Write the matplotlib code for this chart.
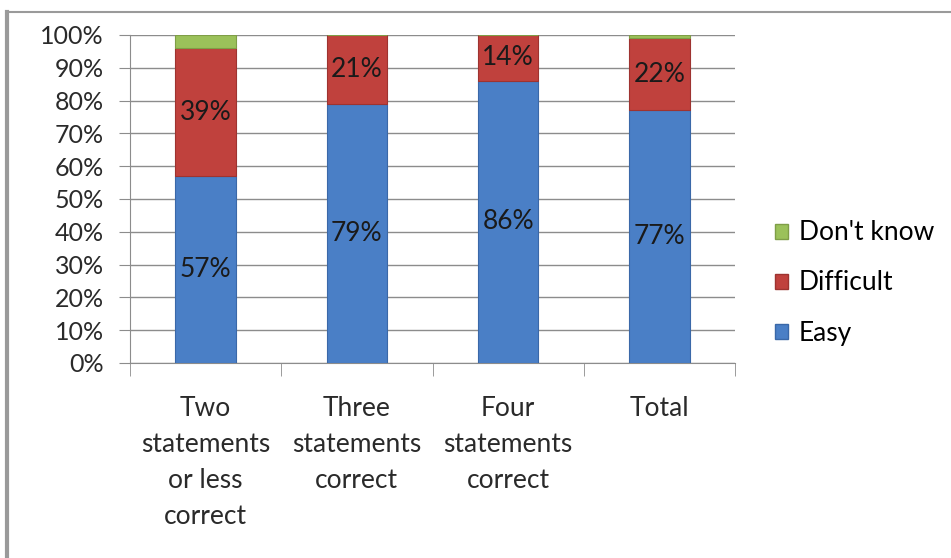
import numpy as np
import matplotlib
matplotlib.use("Agg")
import matplotlib.pyplot as plt
from matplotlib.lines import Line2D
from matplotlib.patches import Patch

categories = ["Two\nstatements\nor less\ncorrect", "Three\nstatements\ncorrect",
              "Four\nstatements\ncorrect", "Total"]
easy = [57, 79, 86, 77]
difficult = [39, 21, 14, 22]
dont_know = [4, 0, 0, 1]
yticks = [0, 10, 20, 30, 40, 50, 60, 70, 80, 90, 100]

c_easy = "#4a7fc6"
c_diff = "#c0413d"
c_dk = "#9bc15a"

plt.rcParams["font.family"] = ["Lato", "DejaVu Sans"]
fs = 19

fig = plt.figure(figsize=(9.51, 5.58), dpi=100)
ax = fig.add_axes([130/951, 1-363/558, 605/951, 328/558])

x = np.arange(len(categories))
w = 0.4
ax.bar(x, easy, w, color=c_easy, edgecolor="#3a68a8", linewidth=0.8, zorder=3)
ax.bar(x, difficult, w, bottom=easy, color=c_diff, edgecolor="#9e3330", linewidth=0.8, zorder=3)
bottom3 = [e + d for e, d in zip(easy, difficult)]
ax.bar(x, dont_know, w, bottom=bottom3, color=c_dk, edgecolor="#7f9e47", linewidth=0.8, zorder=3)

for i in range(len(categories)):
    ax.text(x[i], easy[i]/2, f"{easy[i]}%", ha="center", va="center",
            fontsize=fs, color="#1a1a1a", zorder=4)
    ax.text(x[i], easy[i] + difficult[i]/2, f"{difficult[i]}%", ha="center", va="center",
            fontsize=fs, color="#1a1a1a", zorder=4)

ax.set_xlim(-0.5, len(categories) - 0.5)
ax.set_ylim(0, 100)
ax.set_yticks(yticks)
ax.set_yticklabels([f"{t}%" for t in yticks], fontsize=18, color="#2a2a2a")
ax.yaxis.grid(True, color="#8c8c8c", linewidth=1, zorder=0)
ax.tick_params(axis="y", length=8, color="#8c8c8c", pad=11)
ax.set_xticks(x)
ax.set_xticklabels(categories, fontsize=fs, color="#2a2a2a", linespacing=1.55)
ax.set_xticks(np.arange(len(categories) + 1) - 0.5, minor=True)
ax.tick_params(axis="x", which="major", length=0, pad=24)
ax.tick_params(axis="x", which="minor", length=9, color="#8c8c8c")
for s in ["top", "right"]:
    ax.spines[s].set_visible(False)
ax.spines["left"].set_color("#8c8c8c")
ax.spines["bottom"].set_color("#8c8c8c")

handles = [Patch(facecolor=c_dk, edgecolor="#7f9e47"),
           Patch(facecolor=c_diff, edgecolor="#9e3330"),
           Patch(facecolor=c_easy, edgecolor="#3a68a8")]
fig.legend(handles, ["Don't know", "Difficult", "Easy"], loc="center left",
           bbox_to_anchor=(775/951, 1-283/558), frameon=False, fontsize=fs,
           handlelength=0.5, handleheight=0.5, handletextpad=0.4, labelspacing=0.95,
           borderpad=0, borderaxespad=0)

# outer chart frame (left and top edges)
fig.add_artist(Line2D([7/951, 7/951], [0, 1-12/558], color="#9a9a9a", linewidth=3))
fig.add_artist(Line2D([7/951, 1], [1-12/558, 1-12/558], color="#9a9a9a", linewidth=1.5))

fig.savefig("out.png", dpi=100)
